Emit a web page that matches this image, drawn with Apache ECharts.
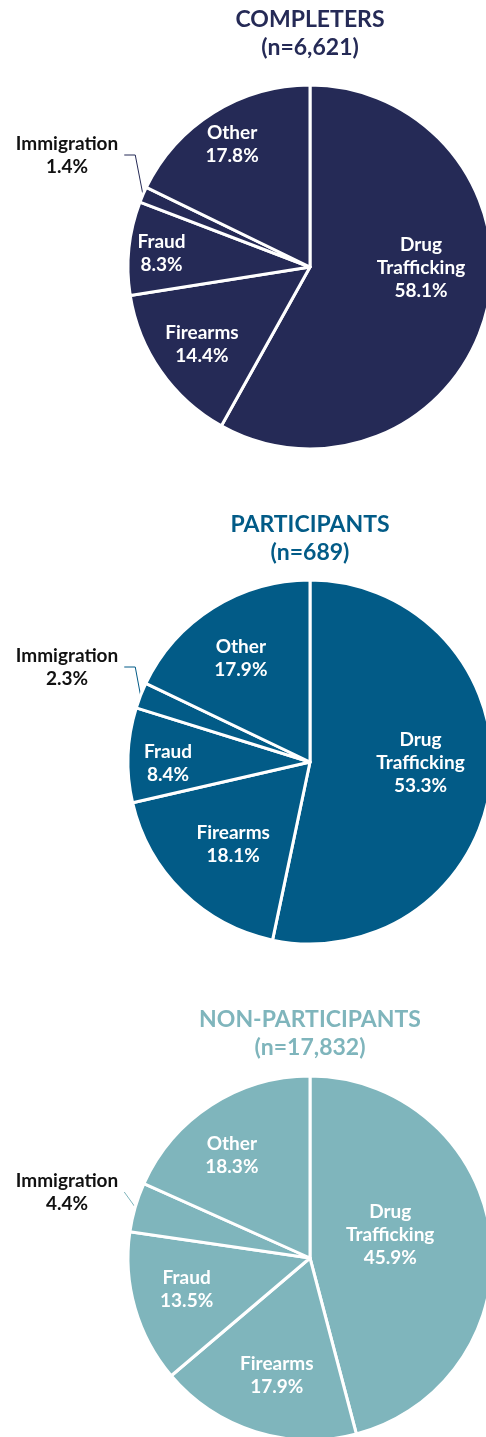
<!DOCTYPE html>
<html>
<head>
<meta charset="utf-8">
<script src="https://cdn.jsdelivr.net/npm/echarts@6/dist/echarts.min.js"></script>
<style>
  html, body { margin: 0; padding: 0; background: #ffffff; }
  #chart { width: 486px; height: 1437px; }
</style>
</head>
<body>
<div id="chart"></div>
<script>
// Offense categories, shared by all three groups (clockwise from 12 o'clock)
const categories = ['Drug Trafficking', 'Firearms', 'Fraud', 'Immigration', 'Other'];

// Group headings and sample sizes
const groupNames = ['COMPLETERS', 'PARTICIPANTS', 'NON-PARTICIPANTS'];
const groupCounts = ['6,621', '689', '17,832'];

// Share of each offense category, in percent
const completers = [58.1, 14.4, 8.3, 1.4, 17.8];
const participants = [53.3, 18.1, 8.4, 2.3, 17.9];
const nonParticipants = [45.9, 17.9, 13.5, 4.4, 18.3];

const groups = [completers, participants, nonParticipants];

// ---- presentation ----
const palette = ['#252a56', '#025b87', '#7fb5bc'];
const centers = [[310, 267], [310, 762], [310, 1258]];
const pieRadius = 182;
const titleTops = [6, 511, 1006];
// per-slice label nudges [dx, dy] for the inside labels
const labelNudges = [
  [[20, -23], [-31, 24], [-55, -4], null, [-28, -43]],
  [[17, -9], [-11, 15], [-48, 5], null, [-19, -24]],
  [[-13, -11], [-5, 28], [-33, 5], null, [-27, -24]]
];
// outside (Immigration) label anchor, relative to its pie centre
const outsideLabelAt = [[-240, -112], [-240, -95], [-240, -66]];
const outsideLength2 = [11, 11, 0];
const FONT = 'Lato, "Open Sans", sans-serif';

const chart = echarts.init(document.getElementById('chart'), null, { renderer: 'canvas' });

const sliceLabel = p => p.name.replace(' ', '\n') + '\n' + p.value.toFixed(1) + '%';

const option = {
  animation: false,
  backgroundColor: '#ffffff',
  title: groupNames.map((name, s) => ({
    text: name + '\n(n=' + groupCounts[s] + ')',
    left: centers[s][0],
    top: titleTops[s],
    textAlign: 'center',
    padding: 0,
    textStyle: {
      color: palette[s],
      fontFamily: FONT,
      fontWeight: 'bold',
      fontSize: 23,
      lineHeight: 28
    }
  })),
  series: groups.map((vals, s) => ({
    type: 'pie',
    center: centers[s],
    radius: pieRadius,
    startAngle: 90,
    clockwise: true,
    avoidLabelOverlap: false,
    emphasis: { disabled: true },
    itemStyle: { color: palette[s], borderColor: '#ffffff', borderWidth: 3 },
    label: {
      show: true,
      position: 'inside',
      color: '#ffffff',
      fontFamily: FONT,
      fontWeight: 'bold',
      fontSize: 19,
      lineHeight: 23,
      align: 'center',
      formatter: sliceLabel
    },
    labelLine: { show: false },
    labelLayout: function (p) {
      const i = p.dataIndex;
      if (i === 3) {
        return {
          x: centers[s][0] + outsideLabelAt[s][0],
          y: centers[s][1] + outsideLabelAt[s][1],
          align: 'center',
          verticalAlign: 'middle'
        };
      }
      const n = labelNudges[s][i];
      return { dx: n[0], dy: n[1] };
    },
    data: categories.map((name, i) => {
      if (i !== 3) return { name: name, value: vals[i] };
      return {
        name: name,
        value: vals[i],
        // extra top padding lifts the leader-line attachment point
        label: { position: 'outside', color: '#111111', padding: [8, 6, 0, 0] },
        labelLine: {
          show: true,
          length: 10,
          length2: outsideLength2[s],
          lineStyle: { color: palette[s], width: 1 }
        }
      };
    })
  }))
};

chart.setOption(option);
</script>
</body>
</html>
